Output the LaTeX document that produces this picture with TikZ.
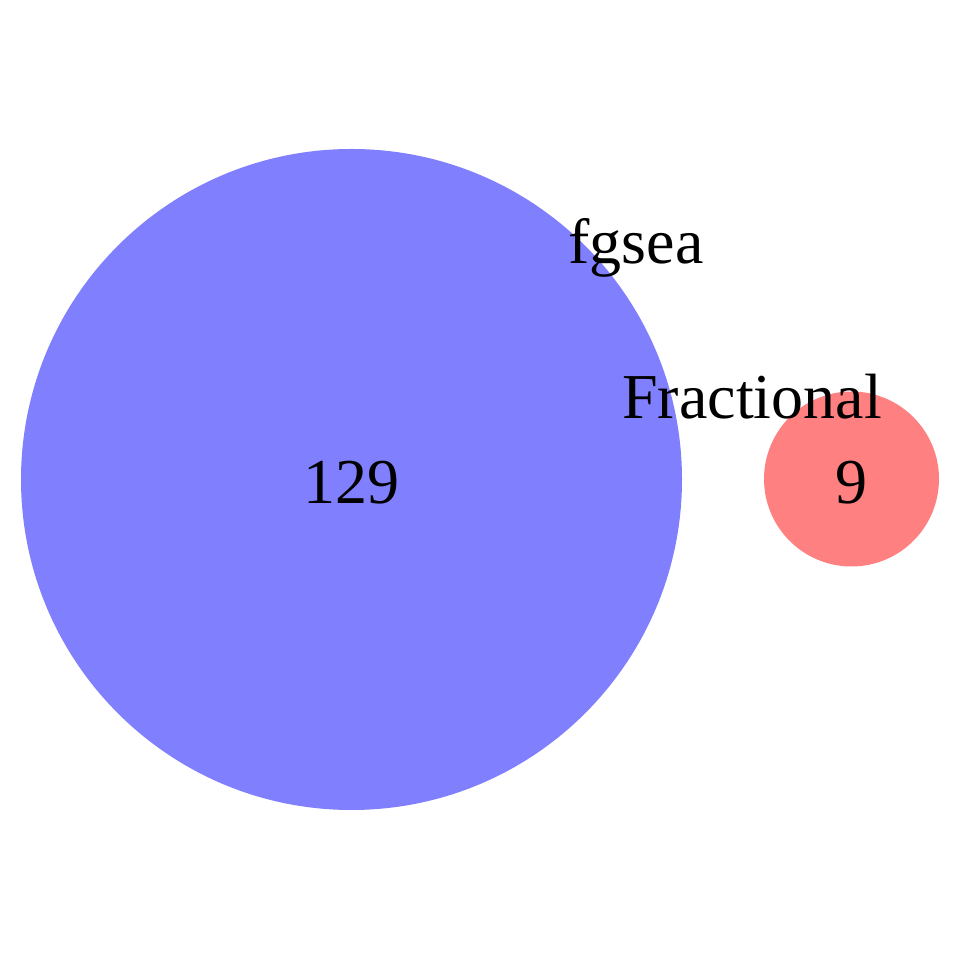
\documentclass[tikz,border=0pt]{standalone}
\usepackage{fontspec}
\setmainfont{Liberation Serif}
\definecolor{setblue}{RGB}{128,128,255}
\definecolor{setred}{RGB}{255,128,128}
\begin{document}
\begin{tikzpicture}[x=1pt,y=1pt,
  lbl/.style={anchor=base,inner sep=0pt,font=\fontsize{64}{64}\selectfont}]
\useasboundingbox (0,0) rectangle (960,960);
\fill[setblue] (351.5,480.5) circle[radius=330.5];
\fill[setred] (851.5,481) circle[radius=87.5];
\node[lbl] (n129) at (351.5,456) {129};
\node[lbl] (n9) at (851.5,456) {9};
\node[lbl] (fg) at (636,696) {fgsea};
\node[lbl] (fr) at (752,541) {Fractional};
\end{tikzpicture}
\end{document}
